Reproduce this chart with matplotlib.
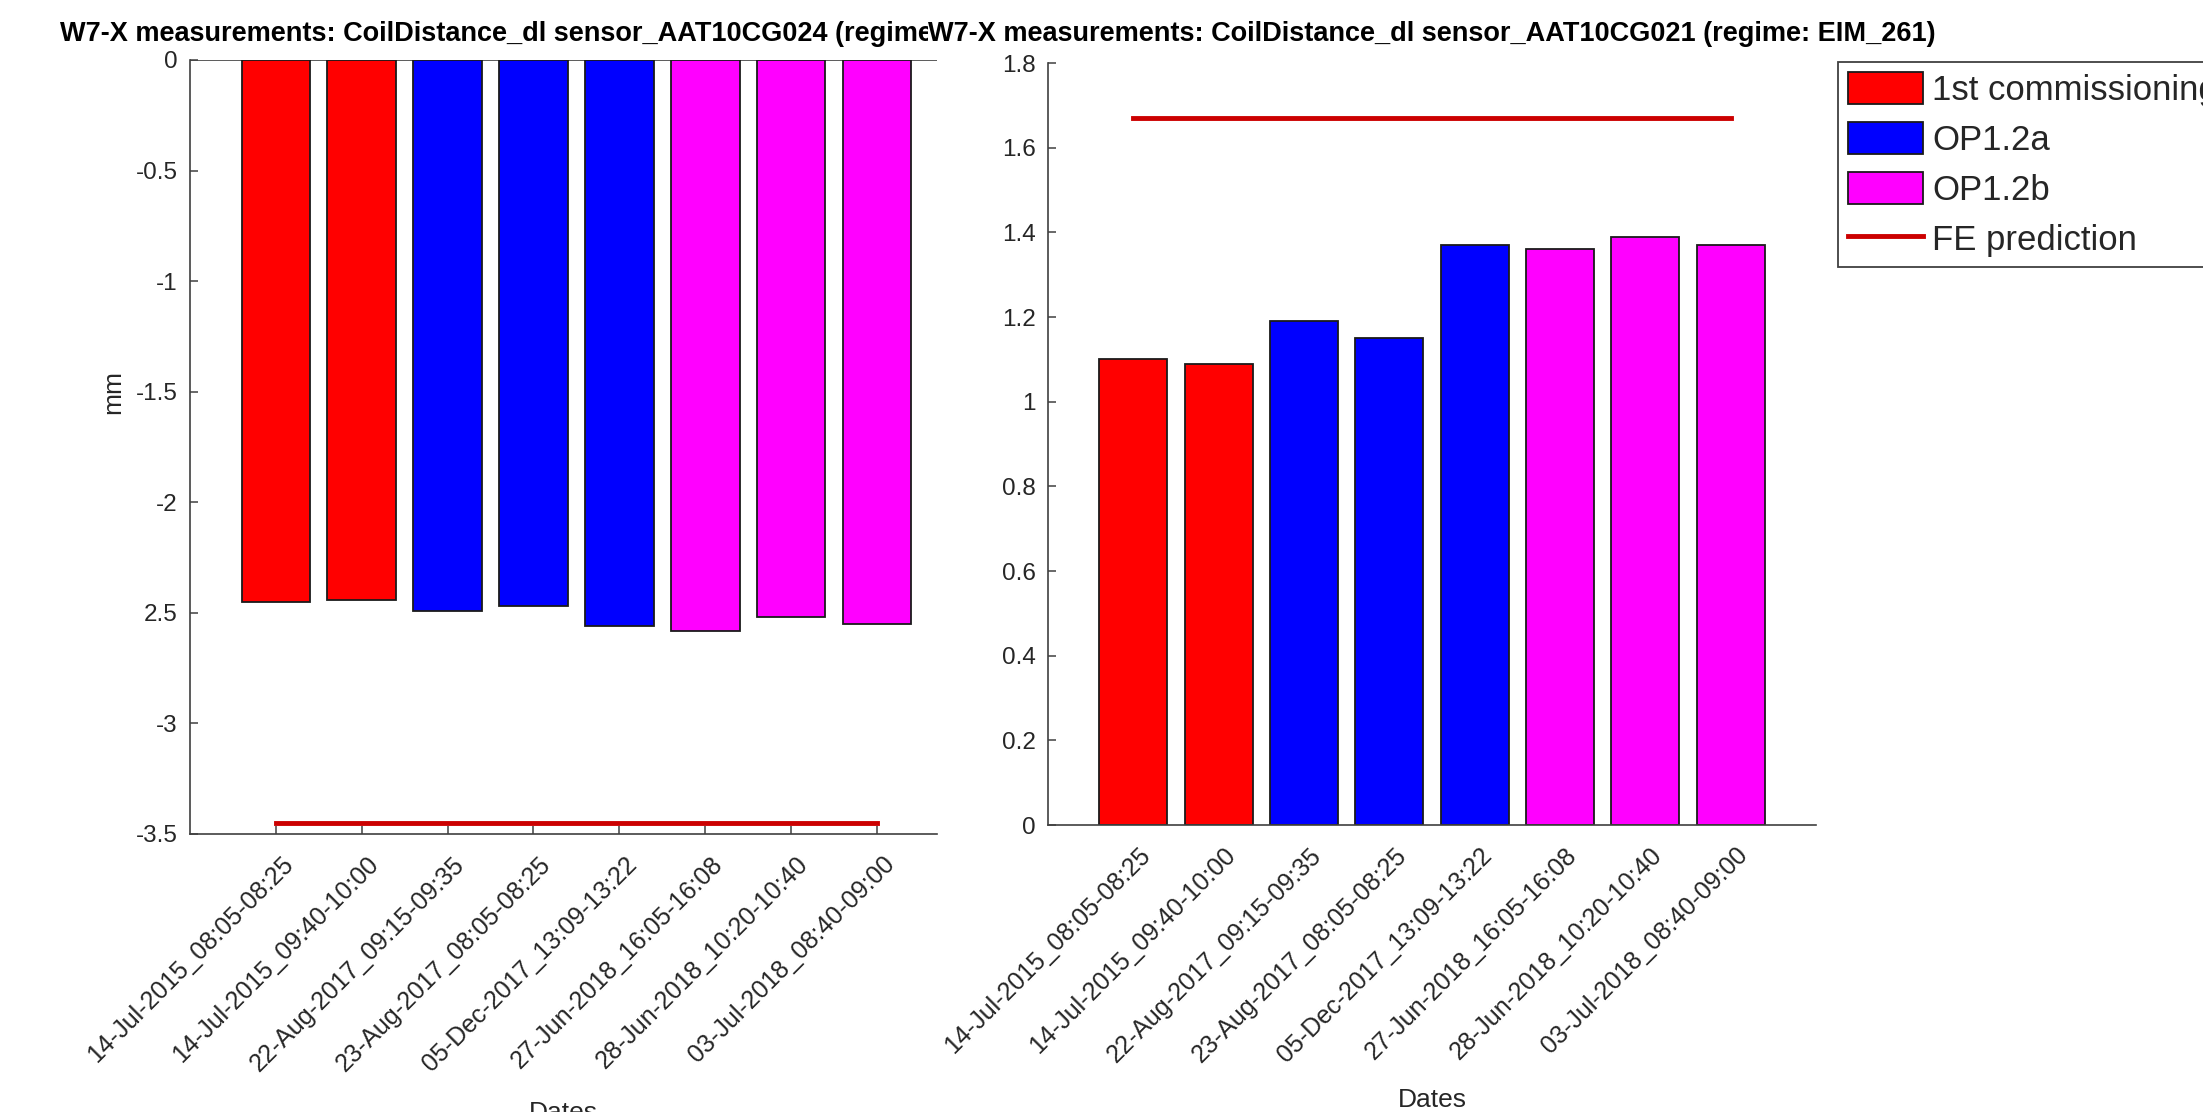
import numpy as np
import matplotlib.pyplot as plt
import matplotlib.transforms as mtransforms
from matplotlib.patches import Patch
from matplotlib.lines import Line2D

plt.rcParams['font.family'] = ['Liberation Sans', 'DejaVu Sans']

# measurement dates (x categories)
dates = ['14-Jul-2015_08:05-08:25', '14-Jul-2015_09:40-10:00',
         '22-Aug-2017_09:15-09:35', '23-Aug-2017_08:05-08:25',
         '05-Dec-2017_13:09-13:22', '27-Jun-2018_16:05-16:08',
         '28-Jun-2018_10:20-10:40', '03-Jul-2018_08:40-09:00']
phases = ['1st commissioning', '1st commissioning', 'OP1.2a', 'OP1.2a',
          'OP1.2a', 'OP1.2b', 'OP1.2b', 'OP1.2b']
phase_names = ['1st commissioning', 'OP1.2a', 'OP1.2b']
phase_colors = ['#ff0000', '#0000ff', '#ff00ff']

# sensor values (mm)
cg024 = [-2.45, -2.44, -2.49, -2.47, -2.56, -2.58, -2.52, -2.55]
cg021 = [1.10, 1.09, 1.19, 1.15, 1.37, 1.36, 1.39, 1.37]
fe024 = -3.45
fe021 = 1.67

left_yticks = [0, -0.5, -1, -1.5, -2, -2.5, -3, -3.5]
left_yticklabels = ['0', '-0.5', '-1', '-1.5', '-2', '2.5', '-3', '-3.5']
right_yticks = [0, 0.2, 0.4, 0.6, 0.8, 1.0, 1.2, 1.4, 1.6, 1.8]
right_yticklabels = ['0', '0.2', '0.4', '0.6', '0.8', '1', '1.2', '1.4', '1.6', '1.8']

axcol = '#404040'
txtcol = '#262626'
fecol = '#cc0000'
W, H = 2203, 1112

fig = plt.figure(figsize=(W / 100, H / 100), dpi=100)
ax1 = fig.add_axes([190 / W, 1 - 834 / H, 747 / W, 774 / H])
ax2 = fig.add_axes([1048 / W, 1 - 825 / H, 768 / W, 762 / H])

x = np.arange(1, len(dates) + 1)
cmap = dict(zip(phase_names, phase_colors))
bar_cols = [cmap[p] for p in phases]


def draw(ax, vals, fe, yticks, ylabels, ylim, xlim):
    ax.set_axisbelow(True)
    ax.bar(x, vals, width=0.8, color=bar_cols, edgecolor='#1a1a1a', linewidth=1.3)
    ax.plot(x, np.full(len(x), fe), color=fecol, lw=3.5)
    ax.set_xlim(*xlim)
    ax.set_ylim(*ylim)
    ax.set_yticks(yticks)
    ax.set_yticklabels(ylabels)
    ax.set_xticks(x)
    ax.set_xticklabels(dates, rotation=45, ha='right', va='top',
                       rotation_mode='anchor')
    for s in ['top', 'right']:
        ax.spines[s].set_visible(False)
    for s in ['left', 'bottom']:
        ax.spines[s].set_color(axcol)
        ax.spines[s].set_linewidth(1.2)
    ax.tick_params(direction='in', length=6, width=1.1, color=axcol,
                   labelcolor=txtcol, labelsize=17.5)
    ax.tick_params(axis='y', pad=9)
    ax.tick_params(axis='x', pad=13, labelsize=18)
    shift = mtransforms.ScaledTranslation(0.05, 0, fig.dpi_scale_trans)
    for lbl in ax.get_xticklabels():
        lbl.set_transform(lbl.get_transform() + shift)
    ax.set_xlabel('Dates', fontsize=19, color=txtcol)
    ax.xaxis.set_label_coords(0.5, -0.345)


draw(ax1, cg024, fe024, left_yticks, left_yticklabels, (-3.5, 0), (0, 8.7))
ax1.axhline(0, color=axcol, lw=1.2, zorder=0.6)
ax1.set_ylabel('mm', fontsize=19, color=txtcol, va='center')
ax1.yaxis.set_label_coords(-0.103, 0.571)

draw(ax2, cg021, fe021, right_yticks, right_yticklabels, (0, 1.8), (0, 9))

fig.text((190 + 937) / 2 / W, 1 - 41 / H,
         'W7-X measurements: CoilDistance_dl sensor_AAT10CG024 (regime: EIM_261)',
         ha='center', va='baseline', fontsize=19.5, fontweight='bold', color='black')
fig.text((1048 + 1816) / 2 / W, 1 - 41 / H,
         'W7-X measurements: CoilDistance_dl sensor_AAT10CG021 (regime: EIM_261)',
         ha='center', va='baseline', fontsize=19.5, fontweight='bold', color='black',
         bbox=dict(facecolor='white', edgecolor='none', pad=0))

handles = [Patch(facecolor=c, edgecolor='#1a1a1a', linewidth=1.3) for c in phase_colors]
handles.append(Line2D([], [], color=fecol, lw=3.5))
labels = phase_names + ['FE prediction']
leg = ax2.legend(handles, labels, loc='upper left',
                 bbox_to_anchor=(1838 / W, 1 - 62 / H), bbox_transform=fig.transFigure,
                 fontsize=25, frameon=True, fancybox=False, framealpha=1,
                 edgecolor=axcol, handlelength=2.16, handleheight=1.04,
                 handletextpad=0.26, labelspacing=0.43, borderpad=0.3,
                 borderaxespad=0)
leg.get_frame().set_linewidth(1.3)
for t in leg.get_texts():
    t.set_color(txtcol)

fig.savefig('out.png', dpi=100)
